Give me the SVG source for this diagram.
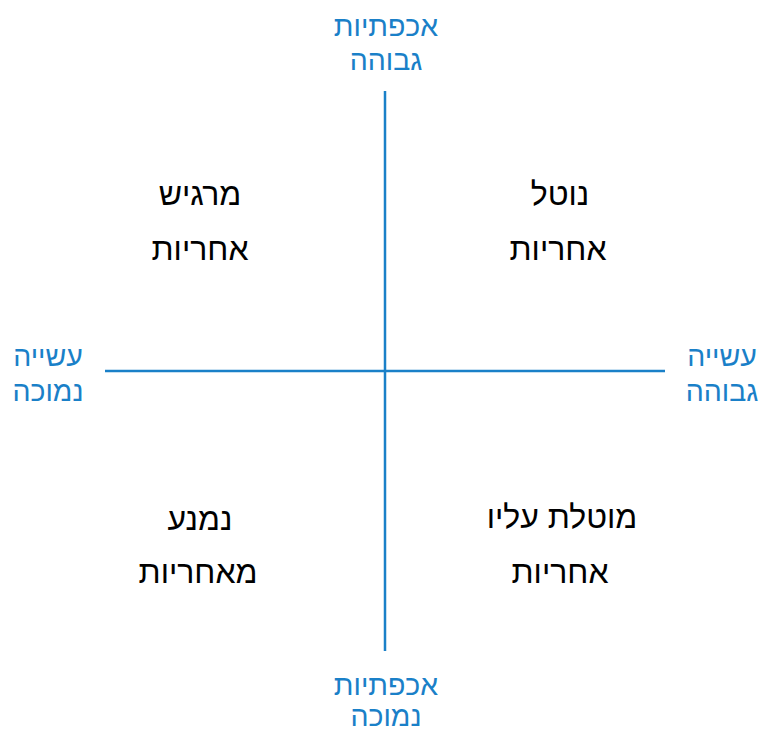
<svg xmlns="http://www.w3.org/2000/svg" width="759" height="731" viewBox="0 0 759 731">
<style>
.ax{font-family:"Liberation Sans","DejaVu Sans",sans-serif;font-size:28.5px;fill:#1a80c8;text-anchor:middle;direction:rtl}
.q{font-family:"Liberation Sans","DejaVu Sans",sans-serif;font-size:32px;fill:#000;text-anchor:middle;direction:rtl}
.ln{stroke:#1a80c8;stroke-width:2.5;fill:none}
</style>
<rect width="759" height="731" fill="#fff"/>
<g id="connectors">
<line class="ln" x1="385" y1="91" x2="385" y2="651"/>
<line class="ln" x1="105" y1="371" x2="665" y2="371"/>
</g>
<g id="top-label"><text class="ax" x="386" y="36">אכפתיות</text><text class="ax" x="386" y="70">גבוהה</text></g>
<g id="bottom-label"><text class="ax" x="386" y="695">אכפתיות</text><text class="ax" x="386" y="726">נמוכה</text></g>
<g id="left-label"><text class="ax" x="48" y="366">עשייה</text><text class="ax" x="48" y="401">נמוכה</text></g>
<g id="right-label"><text class="ax" x="722" y="366">עשייה</text><text class="ax" x="722" y="401">גבוהה</text></g>
<g id="q-top-left"><text class="q" x="200" y="205">מרגיש</text><text class="q" x="200" y="260">אחריות</text></g>
<g id="q-top-right"><text class="q" x="560" y="205">נוטל</text><text class="q" x="558" y="260">אחריות</text></g>
<g id="q-bottom-left"><text class="q" x="200" y="530">נמנע</text><text class="q" x="198" y="583">מאחריות</text></g>
<g id="q-bottom-right"><text class="q" x="562" y="528">מוטלת עליו</text><text class="q" x="560" y="583">אחריות</text></g>
</svg>
